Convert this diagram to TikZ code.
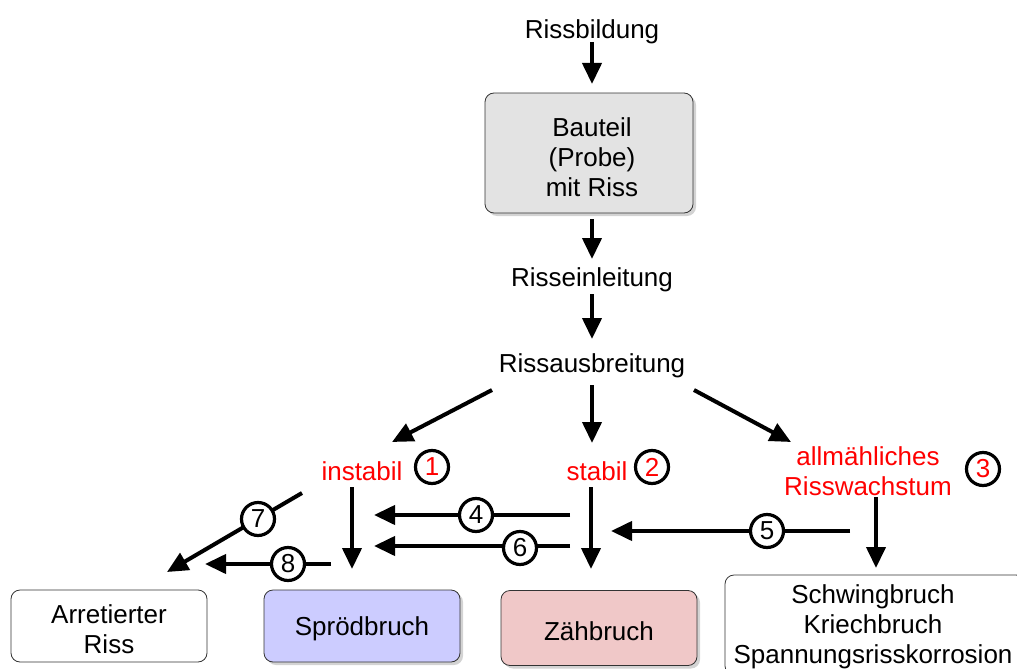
\documentclass[tikz,border=0pt]{standalone}
\usepackage{fontspec}
\setmainfont{Liberation Sans}
\usetikzlibrary{arrows.meta,shadows}
\definecolor{boxgray}{HTML}{E3E3E3}
\definecolor{sprod}{HTML}{CCCCFF}
\definecolor{zaeh}{HTML}{F0C8C8}
\definecolor{myred}{HTML}{FF0000}
\tikzset{
  txt/.style={align=center,inner sep=0pt,font=\fontsize{26}{30}\selectfont},
  redtxt/.style={txt,text=myred},
  box/.style={draw=black!80,line width=0.8pt,rounded corners=9pt,align=center,inner sep=0pt,font=\fontsize{26}{30}\selectfont},
  shbox/.style={box,drop shadow={opacity=0.35,shadow xshift=3pt,shadow yshift=-3pt}},
  arr/.style={line width=4pt,-{Triangle[length=21pt,width=19pt]}},
  num/.style={circle,draw=black,line width=3.2pt,fill=white,minimum size=33pt,inner sep=0pt,font=\fontsize{26}{30}\selectfont},
  rnum/.style={num,text=myred}
}
\begin{document}
\begin{tikzpicture}[x=1pt,y=-1pt]
\useasboundingbox (0,0) rectangle (1017,669);
\clip (0,0) rectangle (1017,669);
% text nodes
\node[txt] (bild) at (592,32) {Rissbildung};
\node[shbox,fill=boxgray,minimum width=208pt,minimum height=120pt] (bau) at (589,153) {};
\node[txt] (baut) at (592,157) {Bauteil\\(Probe)\\mit Riss};
\node[txt] (einl) at (592,280) {Risseinleitung};
\node[txt] (ausb) at (592,366) {Rissausbreitung};
\node[redtxt] (inst) at (362,471) {instabil};
\node[rnum] (n1) at (432,467) {1};
\node[redtxt] (stab) at (597,471) {stabil};
\node[rnum] (n2) at (652,467) {2};
\node[redtxt] (allm) at (868,471) {allmähliches\\Risswachstum};
\node[rnum] (n3) at (983,469) {3};
% bottom boxes
\node[box,fill=white,minimum width=196pt,minimum height=72pt] (arr) at (109,626) {};
\node[txt] (arrt) at (109,629) {Arretierter\\Riss};
\node[shbox,fill=sprod,minimum width=196pt,minimum height=72pt] (spr) at (362,626) {};
\node[txt] (sprt) at (362,629) {Sprödbruch};
\node[shbox,fill=zaeh,minimum width=196pt,minimum height=75pt] (zae) at (599,628) {};
\node[txt] (zaet) at (599,631) {Zähbruch};
\node[box,fill=white,minimum width=300pt,minimum height=100pt] (schw) at (875,625) {};
\node[txt] (schwt) at (873,627) {Schwingbruch\\Kriechbruch\\Spannungsrisskorrosion};
% coordinates
\coordinate (a0s) at (592,42);  \coordinate (a0e) at (592,84);
\coordinate (a1s) at (592,219); \coordinate (a1e) at (592,259);
\coordinate (a2s) at (592,294); \coordinate (a2e) at (592,339);
\coordinate (lLs) at (492,390); \coordinate (lLe) at (392,442);
\coordinate (lMs) at (592,385); \coordinate (lMe) at (592,443);
\coordinate (lRs) at (694,390); \coordinate (lRe) at (791,442);
\coordinate (d1s) at (352,487); \coordinate (d1e) at (352,569);
\coordinate (d2s) at (591,487); \coordinate (d2e) at (591,569);
\coordinate (d3s) at (876,497); \coordinate (d3e) at (876,568);
\coordinate (h4s) at (570,515); \coordinate (h4e) at (374,515);
\coordinate (h6s) at (570,546); \coordinate (h6e) at (374,546);
\coordinate (h5s) at (850,531); \coordinate (h5e) at (611,531);
\coordinate (h7s) at (302,493); \coordinate (h7e) at (167,572);
\coordinate (h8s) at (331,564); \coordinate (h8e) at (205,564);
% arrows
\draw[arr] (a0s) -- (a0e);
\draw[arr] (a1s) -- (a1e);
\draw[arr] (a2s) -- (a2e);
\draw[arr] (lLs) -- (lLe);
\draw[arr] (lMs) -- (lMe);
\draw[arr] (lRs) -- (lRe);
\draw[arr] (d1s) -- (d1e);
\draw[arr] (d2s) -- (d2e);
\draw[arr] (d3s) -- (d3e);
\draw[arr] (h4s) -- (h4e);
\draw[arr] (h6s) -- (h6e);
\draw[arr] (h5s) -- (h5e);
\draw[arr] (h7s) -- (h7e);
\draw[arr] (h8s) -- (h8e);
% numbered circles on arrows
\node[num] (n4) at (476,515) {4};
\node[num] (n6) at (520,548) {6};
\node[num] (n5) at (767,531) {5};
\node[num] (n7) at (258,519) {7};
\node[num] (n8) at (288,564) {8};
\end{tikzpicture}
\end{document}
